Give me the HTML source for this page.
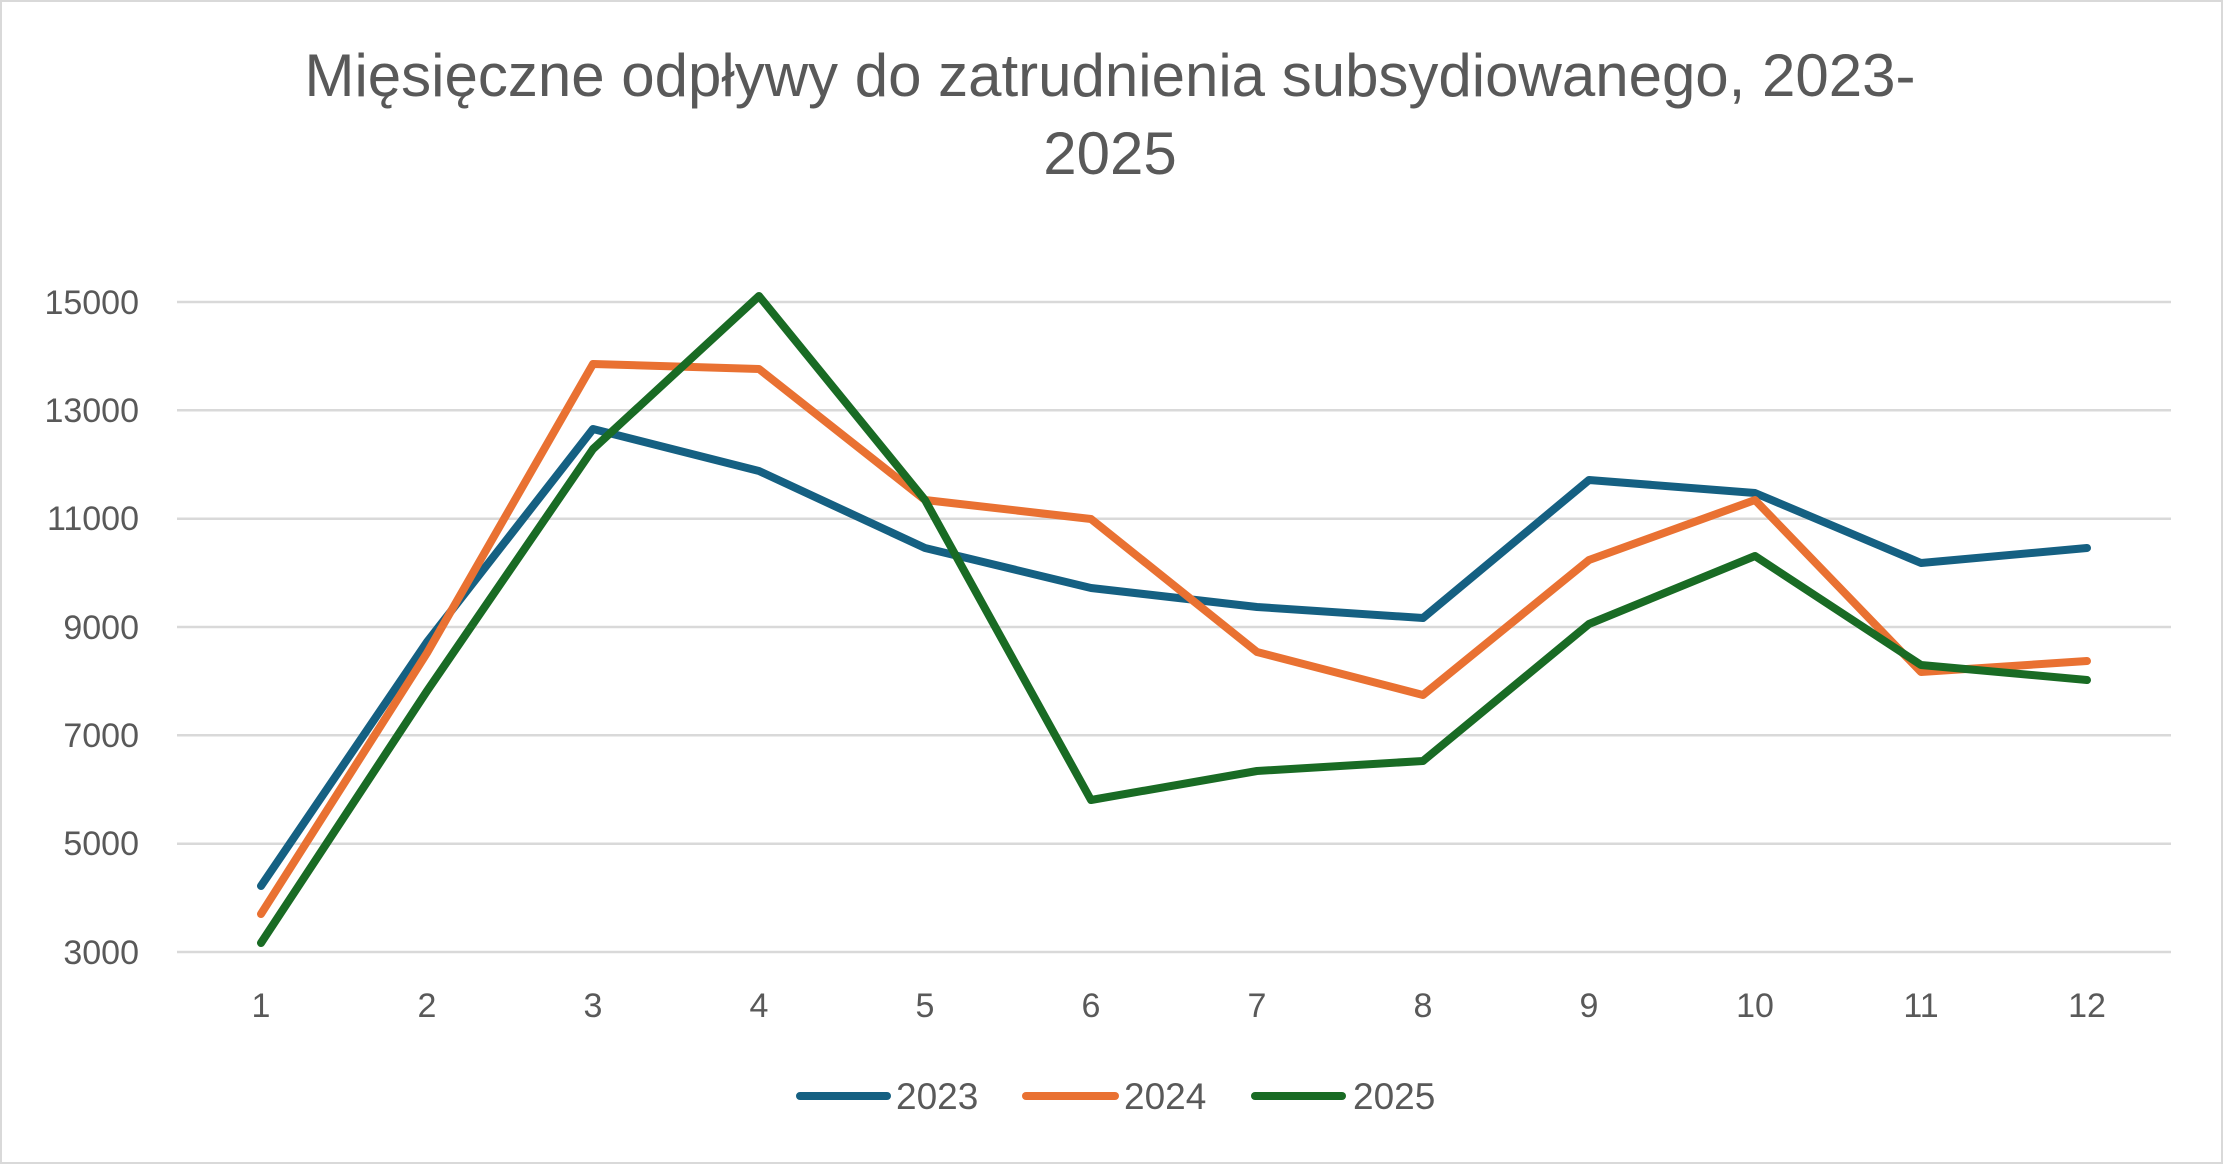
<!DOCTYPE html>
<html><head><meta charset="utf-8"><style>
html,body{margin:0;padding:0;background:#fff}
svg{display:block}
text{font-family:"Liberation Sans",sans-serif;fill:#595959}
</style></head><body>
<svg width="2223" height="1164" viewBox="0 0 2223 1164" xmlns="http://www.w3.org/2000/svg">
<rect x="1" y="1" width="2221" height="1162" fill="#fff" stroke="#d9d9d9" stroke-width="2"/>
<text x="1110" y="96" font-size="60" text-anchor="middle">Mięsięczne odpływy do zatrudnienia subsydiowanego, 2023-</text>
<text x="1110" y="174" font-size="60" text-anchor="middle">2025</text>
<g stroke="#d9d9d9" stroke-width="2.5">
<line x1="177" y1="302" x2="2171" y2="302"/>
<line x1="177" y1="410.3" x2="2171" y2="410.3"/>
<line x1="177" y1="518.7" x2="2171" y2="518.7"/>
<line x1="177" y1="627" x2="2171" y2="627"/>
<line x1="177" y1="735.3" x2="2171" y2="735.3"/>
<line x1="177" y1="843.7" x2="2171" y2="843.7"/>
<line x1="177" y1="952" x2="2171" y2="952"/>
</g>
<g font-size="34" text-anchor="end">
<text x="139" y="314">15000</text>
<text x="139" y="422">13000</text>
<text x="139" y="530">11000</text>
<text x="139" y="639">9000</text>
<text x="139" y="747">7000</text>
<text x="139" y="855">5000</text>
<text x="139" y="964">3000</text>
</g>
<g font-size="34" text-anchor="middle">
<text x="261" y="1017">1</text><text x="427" y="1017">2</text><text x="593" y="1017">3</text><text x="759" y="1017">4</text><text x="925" y="1017">5</text><text x="1091" y="1017">6</text><text x="1257" y="1017">7</text><text x="1423" y="1017">8</text><text x="1589" y="1017">9</text><text x="1755" y="1017">10</text><text x="1921" y="1017">11</text><text x="2087" y="1017">12</text>
</g>
<g fill="none" stroke-width="8" stroke-linecap="round" stroke-linejoin="round">
<polyline stroke="#156082" points="261,886 427,642 593,429 759,471 925,548 1091,588 1257,607 1423,618 1589,480 1755,493 1921,563 2087,548"/>
<polyline stroke="#E97132" points="261,914 427,653 593,364 759,369 925,500 1091,519 1257,652 1423,695 1589,560 1755,500 1921,672 2087,661"/>
<polyline stroke="#196B24" points="261,943 427,691 593,449 759,296 925,500 1091,800 1257,771 1423,761 1589,624 1755,556 1921,665 2087,680"/>
</g>
<g stroke-width="8" stroke-linecap="round">
<line x1="800" y1="1096" x2="887" y2="1096" stroke="#156082"/>
<line x1="1026" y1="1096" x2="1115" y2="1096" stroke="#E97132"/>
<line x1="1255" y1="1096" x2="1342" y2="1096" stroke="#196B24"/>
</g>
<g font-size="37">
<text x="896" y="1109">2023</text>
<text x="1124" y="1109">2024</text>
<text x="1353" y="1109">2025</text>
</g>
</svg>
</body></html>
